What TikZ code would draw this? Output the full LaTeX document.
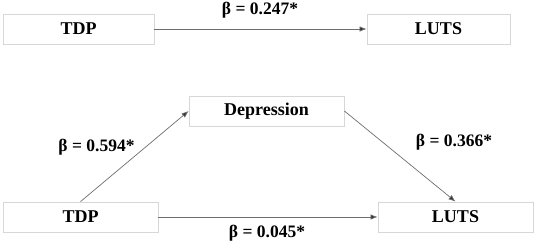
\documentclass[tikz,border=0pt]{standalone}
\usepackage{fontspec}
\setmainfont{Liberation Serif}
\usetikzlibrary{arrows.meta,positioning}
\definecolor{boxline}{RGB}{215,215,215}
\definecolor{arrowline}{RGB}{110,110,110}
\tikzset{
  varbox/.style={draw=boxline,line width=0.8pt,minimum height=30pt,inner sep=0pt,font=\fontsize{18}{20}\selectfont\bfseries},
  pathline/.style={arrowline,line width=0.7pt,-{Latex[length=7pt,width=5.5pt,fill=black!80]}},
  coef/.style={font=\fontsize{17.5}{19}\selectfont\bfseries}
}
\begin{document}
\begin{tikzpicture}[x=1pt,y=-1pt]
    \useasboundingbox (0,0) rectangle (536,244);
    % total effect
    \node[varbox,minimum width=151pt] (tdpA) at (78.5,29){TDP};
    \node[varbox,minimum width=143pt] (lutsA) at (438.5,29){LUTS};
    \draw[pathline] (tdpA) -- (lutsA);
    \node[coef] (cA) at (260,10){β = 0.247*};
    % mediation model
    \node[varbox,minimum width=155pt] (dep) at (266.5,111){Depression};
    \node[varbox,minimum width=155pt] (tdpB) at (80.5,217){TDP};
    \node[varbox,minimum width=155pt] (lutsB) at (455.5,217){LUTS};
    \draw[pathline] (tdpB.north) -- (dep.west);
    \draw[pathline] (dep.east) -- (lutsB.north);
    \draw[pathline] (tdpB) -- (lutsB);
    \node[coef] (cB) at (96.5,147){β = 0.594*};
    \node[coef] (cC) at (454,142){β = 0.366*};
    \node[coef] (cD) at (267,233){β = 0.045*};
  \end{tikzpicture}
\end{document}
